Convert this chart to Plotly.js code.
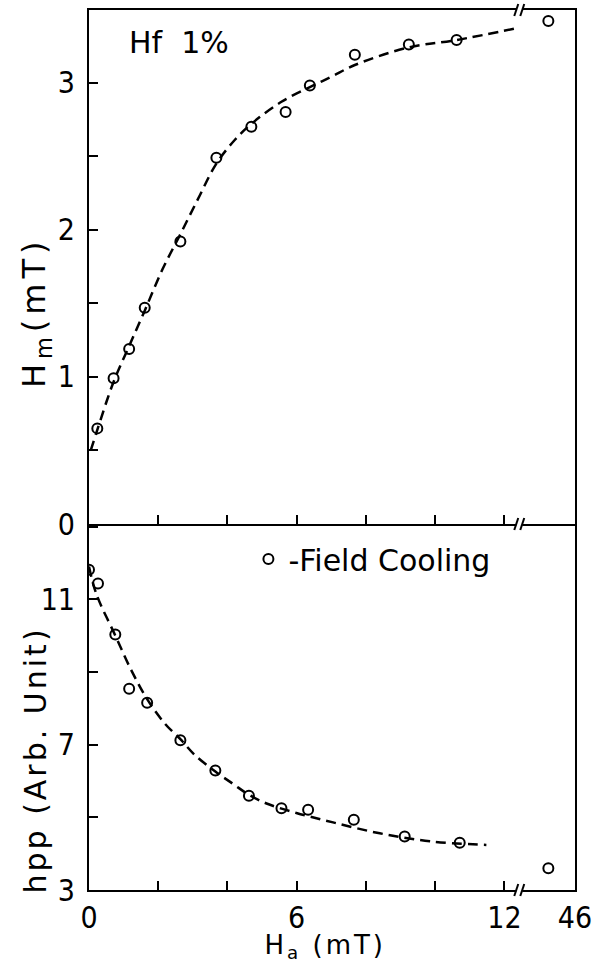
<!DOCTYPE html>
<html>
<head>
<meta charset="utf-8">
<script src="https://cdn.plot.ly/plotly-3.0.1.min.js"></script>
<style>
html,body{margin:0;padding:0;background:#fff;}
#chart{width:593px;height:964px;}
g.annotation[data-index="1"] text{letter-spacing:5px;}
g.annotation[data-index="2"] text{letter-spacing:3px;}
g.annotation[data-index="3"] text{letter-spacing:3px;}
</style>
</head>
<body>
<div id="chart"></div>
<script>
// ---- data (H_a in mT) ----
const hmFieldX = [0.24, 0.71, 1.16, 1.61, 2.64, 3.68, 4.69, 5.68, 6.38, 7.68, 9.24, 10.62, 40];
const hmValues = [0.65, 0.99, 1.19, 1.47, 1.92, 2.49, 2.70, 2.80, 2.98, 3.19, 3.26, 3.29, 3.42];
const hmCurveX = [0.05, 0.24, 0.7, 1.16, 1.61, 2.12, 2.64, 3.15, 3.68, 4.21, 4.69, 5.56, 6.38, 7.0, 7.68, 9.24, 10.62, 12.35];
const hmCurveY = [0.50, 0.64, 0.96, 1.21, 1.45, 1.73, 1.97, 2.21, 2.45, 2.61, 2.72, 2.87, 2.97, 3.04, 3.12, 3.24, 3.29, 3.37];

const hppFieldX = [0, 0.26, 0.76, 1.16, 1.68, 2.64, 3.65, 4.62, 5.56, 6.33, 7.65, 9.12, 10.71, 40];
const hppValues = [11.81, 11.43, 10.03, 8.54, 8.15, 7.12, 6.29, 5.59, 5.25, 5.21, 4.93, 4.47, 4.30, 3.60];
const hppCurveX = [0, 0.21, 0.76, 1.22, 1.68, 2.19, 2.64, 3.05, 3.65, 4.16, 4.62, 5.13, 5.99, 7.05, 8.4, 9.85, 11.48];
const hppCurveY = [11.9, 11.15, 10.0, 9.05, 8.25, 7.58, 7.15, 6.72, 6.26, 5.92, 5.62, 5.38, 5.12, 4.86, 4.56, 4.34, 4.24];

const xTickValues = [0, 6, 12, 46];
const xTickLabels = ['0', '6', '12', '46'];
const xMinorTicks = [2, 4, 8, 10];
const hmTickValues = [0, 1, 2, 3];
const hmTickLabels = ['0', '1', '2', '3'];
const hmMinorTicks = [0.5, 1.5, 2.5];
const hppTickValues = [3, 7, 11];
const hppTickLabels = ['3', '7', '11'];
const hppMinorTicks = [5, 9, 13];

// ---- broken-axis scale ----
const BREAK_POS = 12.43, HI_START = 34, HI_POS = 12.5, X_END = 46, END_POS = 14.04;
function pos(v) {
  if (v <= BREAK_POS) return v;
  return HI_POS + (v - HI_START) * (END_POS - HI_POS) / (X_END - HI_START);
}

const FONT = "'DejaVu Sans', sans-serif";
const TICKFONT = "'DejaVu Sans Condensed', 'DejaVu Sans', sans-serif";
const SPLIT = 366 / 880;

const lineStyle = {color: 'black', width: 2.5, dash: '10px,6px', shape: 'spline', smoothing: 1};
const markerStyle = {symbol: 'circle-open', size: 10, color: 'black', line: {width: 2, color: 'black'}};

const traces = [
  {x: hmCurveX.map(pos), y: hmCurveY, xaxis: 'x2', yaxis: 'y', mode: 'lines', line: lineStyle, showlegend: false, hoverinfo: 'skip'},
  {x: hmFieldX.map(pos), y: hmValues, xaxis: 'x2', yaxis: 'y', mode: 'markers', marker: markerStyle, showlegend: false},
  {x: hppCurveX.map(pos), y: hppCurveY, xaxis: 'x', yaxis: 'y2', mode: 'lines', line: lineStyle, showlegend: false, hoverinfo: 'skip'},
  {x: hppFieldX.map(pos), y: hppValues, xaxis: 'x', yaxis: 'y2', mode: 'markers', marker: markerStyle, name: '-Field Cooling', showlegend: true}
];

function minorTicks(vals) {
  return {ticks: 'inside', ticklen: 9, tickwidth: 2, tickcolor: 'black', tickmode: 'array', tickvals: vals, showgrid: false};
}

const axisCommon = {
  showline: true, linewidth: 2, linecolor: 'black', ticks: 'inside', ticklen: 9, tickwidth: 2,
  tickcolor: 'black', showgrid: false, zeroline: false, tickmode: 'array', ticklabeloverflow: 'allow',
  tickfont: {family: TICKFONT, size: 30, color: 'black'}, fixedrange: true
};

// break marks
const shapes = [];
[0, SPLIT, 1].forEach(function (py) {
  shapes.push({type: 'rect', xref: 'x', yref: 'paper', xsizemode: 'pixel', ysizemode: 'pixel',
    xanchor: BREAK_POS, yanchor: py, x0: -3, x1: 3, y0: -2, y1: 2, fillcolor: 'white', line: {width: 0}, layer: 'above'});
  [-3, 3].forEach(function (off) {
    shapes.push({type: 'line', xref: 'x', yref: 'paper', xsizemode: 'pixel', ysizemode: 'pixel',
      xanchor: BREAK_POS, yanchor: py, x0: off - 2, x1: off + 2, y0: -6, y1: 6,
      line: {color: 'black', width: 2}, layer: 'above'});
  });
});

const X_RANGE = [0, END_POS];

const layout = {
  width: 593, height: 964,
  margin: {l: 89, r: 18, t: 10, b: 74},
  paper_bgcolor: 'white', plot_bgcolor: 'white',
  font: {family: FONT, size: 30, color: 'black'},
  xaxis: Object.assign({}, axisCommon, {domain: [0, 1], anchor: 'y2', range: X_RANGE,
    tickvals: xTickValues.map(pos), ticktext: xTickLabels, ticklabelstandoff: 0,
    minor: minorTicks(xMinorTicks.map(pos))}),
  xaxis2: Object.assign({}, axisCommon, {domain: [0, 1], anchor: 'y', matches: 'x', range: X_RANGE,
    tickvals: xTickValues.slice(0, 3).map(pos), ticktext: xTickLabels.slice(0, 3), showticklabels: false, mirror: true,
    minor: minorTicks(xMinorTicks.map(pos))}),
  yaxis: Object.assign({}, axisCommon, {domain: [SPLIT, 1], anchor: 'x2', range: [0, 3.494],
    tickvals: hmTickValues, ticktext: hmTickLabels, mirror: true, ticklabelstandoff: 6, minor: minorTicks(hmMinorTicks)}),
  yaxis2: Object.assign({}, axisCommon, {domain: [0, SPLIT], anchor: 'x', range: [3, 13.07],
    tickvals: hppTickValues, ticktext: hppTickLabels, mirror: true, ticklabelstandoff: 6, minor: minorTicks(hppMinorTicks)}),
  shapes: shapes,
  showlegend: true,
  legend: {x: 0.328, y: (890 - 559) / 880, xanchor: 'left', yanchor: 'middle', bgcolor: 'rgba(0,0,0,0)',
    borderwidth: 0, font: {family: FONT, size: 30, color: 'black'}},
  annotations: [
    {xref: 'paper', yref: 'paper', x: (126.7 - 89) / 486, y: (890 - 43) / 880, xanchor: 'left', yanchor: 'middle',
      text: 'Hf  1%', showarrow: false, font: {family: FONT, size: 30, color: 'black'}},
    {xref: 'paper', yref: 'paper', x: (36 - 89) / 486, y: (890 - 312) / 880, xanchor: 'center', yanchor: 'middle',
      textangle: -90, text: 'H<sub>m</sub>(mT)', showarrow: false, font: {family: FONT, size: 32, color: 'black'}},
    {xref: 'paper', yref: 'paper', x: (35 - 89) / 486, y: (890 - 760) / 880, xanchor: 'center', yanchor: 'middle',
      textangle: -90, text: 'hpp (Arb. Unit)', showarrow: false, font: {family: FONT, size: 30, color: 'black'}},
    {xref: 'paper', yref: 'paper', x: (325 - 89) / 486, y: (890 - 928) / 880, xanchor: 'center', yanchor: 'top',
      text: 'H<sub>a</sub> (mT)', showarrow: false, font: {family: FONT, size: 26, color: 'black'}}
  ]
};

Plotly.newPlot('chart', traces, layout, {displayModeBar: false, staticPlot: true});
</script>
</body>
</html>
